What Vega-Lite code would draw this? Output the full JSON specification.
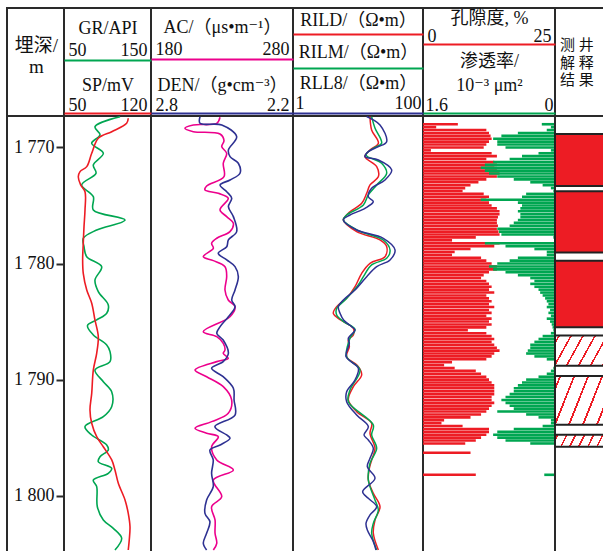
{
"$schema":"https://vega.github.io/schema/vega-lite/v6.json",
"padding":{"left":6,"top":7,"right":0,"bottom":0},
"background":"white",
"columns":6,
"spacing":0,
"bounds":"flush",
"config":{
 "view":{"stroke":"#2a2a2a","strokeWidth":2},
 "axis":{"labelFont":"Liberation Serif, Noto Sans CJK SC, DejaVu Serif","labelFontSize":18,"labelColor":"#111","titleFont":"Liberation Serif, Noto Sans CJK SC, DejaVu Serif","titleFontSize":18,"titleFontWeight":"normal","titleColor":"#111","grid":false,"ticks":false,"tickSize":0,"domainWidth":2,"labelFlush":true,"labelFlushOffset":-4,"labelOverlap":false,"labelAngle":0},
 "text":{"font":"Liberation Serif, Noto Sans CJK SC, DejaVu Serif"}
},
"datasets":{
 "gr":[{"depth":1767.35,"gr":114.4},{"depth":1768.21,"gr":85.6},{"depth":1768.92,"gr":91.4},{"depth":1769.64,"gr":81.8},{"depth":1770.5,"gr":95.2},{"depth":1771.51,"gr":83.7},{"depth":1772.22,"gr":86.8},{"depth":1773.23,"gr":70.3},{"depth":1774.24,"gr":83.7},{"depth":1775.38,"gr":83.7},{"depth":1776.25,"gr":120.1},{"depth":1777.11,"gr":87.6},{"depth":1777.82,"gr":72.2},{"depth":1778.55,"gr":73.0},{"depth":1779.41,"gr":76.1},{"depth":1780.27,"gr":93.3},{"depth":1781.42,"gr":85.6},{"depth":1782.42,"gr":89.4},{"depth":1783.57,"gr":100.9},{"depth":1784.28,"gr":99.1},{"depth":1784.86,"gr":87.6},{"depth":1785.35,"gr":77.0},{"depth":1786.15,"gr":83.7},{"depth":1787.01,"gr":99.1},{"depth":1787.59,"gr":102.9},{"depth":1788.45,"gr":102.9},{"depth":1789.17,"gr":85.6},{"depth":1790.18,"gr":95.2},{"depth":1791.04,"gr":104.8},{"depth":1792.33,"gr":104.8},{"depth":1793.19,"gr":95.2},{"depth":1794.05,"gr":74.1},{"depth":1794.77,"gr":81.8},{"depth":1795.63,"gr":99.1},{"depth":1796.06,"gr":100.9},{"depth":1796.64,"gr":91.4},{"depth":1797.07,"gr":89.4},{"depth":1797.64,"gr":104.8},{"depth":1798.07,"gr":100.9},{"depth":1798.65,"gr":83.7},{"depth":1799.22,"gr":87.6},{"depth":1800.95,"gr":88.3},{"depth":1802.09,"gr":95.2},{"depth":1802.81,"gr":106.7},{"depth":1803.67,"gr":116.3},{"depth":1804.68,"gr":108.6}],
 "sp":[{"depth":1767.48,"sp":101.7},{"depth":1767.92,"sp":100.4},{"depth":1768.64,"sp":88.4},{"depth":1769.21,"sp":77.6},{"depth":1770.5,"sp":72.3},{"depth":1771.65,"sp":68.3},{"depth":1772.08,"sp":62.9},{"depth":1772.52,"sp":61.5},{"depth":1773.23,"sp":63.4},{"depth":1773.81,"sp":66.9},{"depth":1775.38,"sp":66.9},{"depth":1776.82,"sp":66.1},{"depth":1778.25,"sp":65.5},{"depth":1779.69,"sp":65.0},{"depth":1780.84,"sp":65.5},{"depth":1782.28,"sp":68.3},{"depth":1783.42,"sp":72.3},{"depth":1784.86,"sp":74.9},{"depth":1786.3,"sp":77.6},{"depth":1787.73,"sp":76.3},{"depth":1789.17,"sp":73.6},{"depth":1791.18,"sp":72.3},{"depth":1792.61,"sp":70.9},{"depth":1793.76,"sp":72.3},{"depth":1794.92,"sp":76.3},{"depth":1795.78,"sp":81.6},{"depth":1796.92,"sp":88.4},{"depth":1797.78,"sp":91.0},{"depth":1798.93,"sp":93.7},{"depth":1800.37,"sp":99.1},{"depth":1801.52,"sp":101.7},{"depth":1802.67,"sp":103.1},{"depth":1803.82,"sp":102.5},{"depth":1804.68,"sp":101.7}],
 "ac":[{"depth":1767.4,"ac":228.6},{"depth":1767.92,"ac":226.3},{"depth":1768.06,"ac":209.8},{"depth":1768.35,"ac":203.9},{"depth":1768.64,"ac":209.8},{"depth":1768.84,"ac":228.6},{"depth":1769.41,"ac":231.4},{"depth":1769.93,"ac":229.8},{"depth":1770.5,"ac":233.3},{"depth":1771.36,"ac":230.9},{"depth":1772.52,"ac":231.4},{"depth":1773.32,"ac":219.2},{"depth":1773.66,"ac":218.0},{"depth":1773.95,"ac":227.4},{"depth":1774.38,"ac":234.4},{"depth":1775.38,"ac":228.6},{"depth":1775.96,"ac":233.3},{"depth":1776.53,"ac":238.0},{"depth":1777.25,"ac":235.6},{"depth":1777.82,"ac":226.3},{"depth":1778.25,"ac":222.7},{"depth":1778.68,"ac":223.9},{"depth":1779.41,"ac":216.8},{"depth":1779.75,"ac":223.9},{"depth":1780.27,"ac":232.1},{"depth":1781.13,"ac":233.3},{"depth":1782.28,"ac":232.1},{"depth":1783.14,"ac":234.4},{"depth":1783.72,"ac":239.2},{"depth":1784.58,"ac":235.6},{"depth":1785.87,"ac":216.8},{"depth":1786.3,"ac":226.3},{"depth":1786.87,"ac":230.9},{"depth":1787.45,"ac":232.1},{"depth":1787.73,"ac":230.9},{"depth":1788.16,"ac":234.4},{"depth":1788.45,"ac":226.3},{"depth":1789.17,"ac":211.0},{"depth":1789.75,"ac":219.2},{"depth":1790.61,"ac":230.9},{"depth":1791.75,"ac":236.8},{"depth":1792.9,"ac":234.4},{"depth":1793.62,"ac":222.7},{"depth":1794.19,"ac":211.0},{"depth":1794.62,"ac":219.2},{"depth":1794.92,"ac":227.4},{"depth":1795.78,"ac":222.7},{"depth":1796.92,"ac":226.3},{"depth":1797.78,"ac":238.0},{"depth":1798.65,"ac":223.9},{"depth":1800.09,"ac":229.8},{"depth":1800.95,"ac":222.7},{"depth":1802.09,"ac":225.1},{"depth":1803.24,"ac":225.1},{"depth":1804.1,"ac":226.3},{"depth":1804.68,"ac":223.9}],
 "den":[{"depth":1767.35,"den":2.593},{"depth":1767.92,"den":2.593},{"depth":1768.06,"den":2.501},{"depth":1769.07,"den":2.438},{"depth":1770.22,"den":2.473},{"depth":1770.79,"den":2.466},{"depth":1771.36,"den":2.431},{"depth":1772.22,"den":2.424},{"depth":1772.8,"den":2.466},{"depth":1773.23,"den":2.508},{"depth":1773.81,"den":2.48},{"depth":1774.38,"den":2.459},{"depth":1775.1,"den":2.473},{"depth":1775.96,"den":2.452},{"depth":1777.25,"den":2.438},{"depth":1777.97,"den":2.473},{"depth":1778.55,"den":2.48},{"depth":1779.12,"den":2.516},{"depth":1779.69,"den":2.48},{"depth":1780.27,"den":2.445},{"depth":1781.13,"den":2.431},{"depth":1782.28,"den":2.445},{"depth":1783.14,"den":2.459},{"depth":1783.72,"den":2.445},{"depth":1784.58,"den":2.473},{"depth":1785.44,"den":2.508},{"depth":1786.01,"den":2.522},{"depth":1786.59,"den":2.495},{"depth":1787.73,"den":2.473},{"depth":1788.45,"den":2.495},{"depth":1789.02,"den":2.544},{"depth":1789.75,"den":2.495},{"depth":1790.75,"den":2.452},{"depth":1791.75,"den":2.449},{"depth":1793.05,"den":2.445},{"depth":1794.05,"den":2.53},{"depth":1794.77,"den":2.48},{"depth":1795.05,"den":2.466},{"depth":1795.63,"den":2.508},{"depth":1796.06,"den":2.551},{"depth":1796.92,"den":2.537},{"depth":1798.07,"den":2.544},{"depth":1799.22,"den":2.537},{"depth":1800.37,"den":2.565},{"depth":1801.52,"den":2.572},{"depth":1802.24,"den":2.551},{"depth":1803.24,"den":2.565},{"depth":1804.1,"den":2.579},{"depth":1804.68,"den":2.565}],
 "rild":[{"depth":1767.34,"r":15.3},{"depth":1768.49,"r":16.2},{"depth":1769.64,"r":20.6},{"depth":1770.22,"r":15.3},{"depth":1770.79,"r":12.8},{"depth":1771.65,"r":19.4},{"depth":1772.51,"r":20.6},{"depth":1773.23,"r":15.3},{"depth":1773.95,"r":13.6},{"depth":1774.81,"r":11.4},{"depth":1775.67,"r":7.1},{"depth":1776.25,"r":5.95},{"depth":1777.25,"r":9.54},{"depth":1777.97,"r":21.8},{"depth":1778.54,"r":27.6},{"depth":1779.41,"r":26.0},{"depth":1779.98,"r":15.3},{"depth":1780.84,"r":11.4},{"depth":1781.99,"r":9.0},{"depth":1782.99,"r":6.69},{"depth":1783.71,"r":4.7},{"depth":1784.29,"r":4.17},{"depth":1784.86,"r":5.4},{"depth":1785.58,"r":8.48},{"depth":1786.15,"r":8.48},{"depth":1786.59,"r":7.1},{"depth":1787.16,"r":7.36},{"depth":1788.02,"r":6.69},{"depth":1788.88,"r":10.12},{"depth":1789.6,"r":11.39},{"depth":1790.61,"r":8.48},{"depth":1791.75,"r":7.1},{"depth":1792.76,"r":9.54},{"depth":1793.76,"r":16.23},{"depth":1794.63,"r":15.3},{"depth":1795.92,"r":18.26},{"depth":1796.92,"r":16.23},{"depth":1797.64,"r":14.95},{"depth":1798.65,"r":14.42},{"depth":1799.8,"r":17.21},{"depth":1800.95,"r":21.81},{"depth":1802.09,"r":18.26},{"depth":1803.24,"r":17.21},{"depth":1804.68,"r":20.55}],
 "rilm":[{"depth":1767.34,"r":16.2},{"depth":1768.35,"r":18.3},{"depth":1769.64,"r":23.1},{"depth":1770.07,"r":17.2},{"depth":1770.65,"r":13.3},{"depth":1771.36,"r":23.1},{"depth":1772.23,"r":27.6},{"depth":1773.23,"r":19.4},{"depth":1774.09,"r":14.4},{"depth":1774.95,"r":12.1},{"depth":1775.82,"r":6.69},{"depth":1776.25,"r":5.95},{"depth":1777.17,"r":10.1},{"depth":1777.97,"r":24.5},{"depth":1778.83,"r":31.1},{"depth":1779.55,"r":27.6},{"depth":1780.12,"r":16.2},{"depth":1781.13,"r":12.1},{"depth":1781.85,"r":10.1},{"depth":1783.14,"r":6.31},{"depth":1783.86,"r":4.7},{"depth":1784.43,"r":4.7},{"depth":1785.01,"r":6.0},{"depth":1785.67,"r":8.99},{"depth":1786.44,"r":7.53},{"depth":1788.02,"r":6.69},{"depth":1789.17,"r":10.73},{"depth":1790.89,"r":7.53},{"depth":1791.9,"r":7.1},{"depth":1793.91,"r":17.21},{"depth":1794.77,"r":16.23},{"depth":1795.92,"r":19.38},{"depth":1797.21,"r":15.3},{"depth":1798.65,"r":14.42},{"depth":1800.37,"r":18.26},{"depth":1801.23,"r":20.55},{"depth":1802.38,"r":17.21},{"depth":1803.24,"r":16.23},{"depth":1804.68,"r":19.38}],
 "rll8":[{"depth":1767.34,"r":13.6},{"depth":1768.06,"r":21.8},{"depth":1769.5,"r":27.6},{"depth":1769.93,"r":20.6},{"depth":1770.36,"r":14.4},{"depth":1770.79,"r":12.8},{"depth":1771.08,"r":20.6},{"depth":1771.94,"r":33.0},{"depth":1772.8,"r":26.0},{"depth":1773.52,"r":16.2},{"depth":1774.24,"r":14.4},{"depth":1774.67,"r":17.2},{"depth":1775.24,"r":12.8},{"depth":1775.82,"r":7.53},{"depth":1776.25,"r":5.95},{"depth":1777.11,"r":9.54},{"depth":1777.83,"r":24.5},{"depth":1778.83,"r":37.1},{"depth":1779.69,"r":31.1},{"depth":1780.27,"r":19.4},{"depth":1781.13,"r":13.6},{"depth":1782.28,"r":9.0},{"depth":1783.14,"r":5.95},{"depth":1783.71,"r":4.98},{"depth":1784.29,"r":5.29},{"depth":1784.86,"r":6.0},{"depth":1785.44,"r":7.99},{"depth":1785.72,"r":8.99},{"depth":1786.44,"r":7.1},{"depth":1786.87,"r":7.36},{"depth":1788.02,"r":6.54},{"depth":1789.03,"r":10.12},{"depth":1790.03,"r":8.99},{"depth":1791.04,"r":6.69},{"depth":1791.9,"r":6.69},{"depth":1793.05,"r":9.54},{"depth":1794.05,"r":14.42},{"depth":1794.77,"r":12.37},{"depth":1795.2,"r":14.42},{"depth":1795.92,"r":17.21},{"depth":1796.78,"r":15.3},{"depth":1797.5,"r":13.92},{"depth":1798.5,"r":18.26},{"depth":1799.65,"r":11.8},{"depth":1800.23,"r":14.42},{"depth":1800.95,"r":19.38},{"depth":1801.66,"r":15.3},{"depth":1802.38,"r":13.28},{"depth":1802.96,"r":13.92},{"depth":1803.96,"r":17.21},{"depth":1804.68,"r":18.92}],
 "core":[{"depth":1768.0,"por":6.6,"perm":0.16},{"depth":1768.25,"por":2.5,"perm":0.05},{"depth":1768.5,"por":12,"perm":0.1},{"depth":1768.75,"por":12.5,"perm":0.45},{"depth":1769.0,"por":12.8,"perm":0.65},{"depth":1769.25,"por":13,"perm":0.75},{"depth":1769.5,"por":12.5,"perm":0.7},{"depth":1769.75,"por":12,"perm":0.7},{"depth":1770.0,"por":11.5,"perm":0.6},{"depth":1770.25,"por":1.5,"perm":0.05},{"depth":1770.5,"por":13,"perm":0.2},{"depth":1770.75,"por":14,"perm":0.4},{"depth":1771.0,"por":12,"perm":0.55},{"depth":1771.25,"por":13.5,"perm":0.75},{"depth":1771.5,"por":14,"perm":0.85},{"depth":1771.75,"por":13.5,"perm":0.9},{"depth":1772.0,"por":14,"perm":0.85},{"depth":1772.25,"por":14.5,"perm":0.8},{"depth":1772.5,"por":14,"perm":0.7},{"depth":1772.75,"por":12,"perm":0.5},{"depth":1773.0,"por":10.5,"perm":0.3},{"depth":1773.25,"por":9,"perm":0.15},{"depth":1773.5,"por":8,"perm":0.05},{"depth":1773.75,"por":7.5,"perm":0.02},{"depth":1774.0,"por":11.5,"perm":0.35},{"depth":1774.25,"por":12.5,"perm":0.4},{"depth":1774.5,"por":12,"perm":0.9},{"depth":1774.75,"por":12.5,"perm":0.45},{"depth":1775.0,"por":13,"perm":0.4},{"depth":1775.25,"por":14,"perm":0.42},{"depth":1775.5,"por":14.5,"perm":0.45},{"depth":1775.75,"por":14.5,"perm":0.42},{"depth":1776.0,"por":14.2,"perm":0.42},{"depth":1776.25,"por":14,"perm":0.45},{"depth":1776.5,"por":14,"perm":0.5},{"depth":1776.75,"por":14.2,"perm":0.55},{"depth":1777.0,"por":14,"perm":0.7},{"depth":1777.25,"por":14.3,"perm":0.68},{"depth":1777.5,"por":14.5,"perm":0.65},{"depth":1777.75,"por":10,"perm":0.02},{"depth":1778.0,"por":5.5,"perm":0.0},{"depth":1778.25,"por":14.5,"perm":0.85},{"depth":1778.5,"por":13.5,"perm":0.6},{"depth":1778.75,"por":9,"perm":0.25},{"depth":1779.0,"por":6,"perm":0.1},{"depth":1779.25,"por":5.5,"perm":0.1},{"depth":1779.5,"por":11,"perm":0.45},{"depth":1779.75,"por":12,"perm":0.55},{"depth":1780.0,"por":13,"perm":0.7},{"depth":1780.25,"por":14,"perm":0.8},{"depth":1780.5,"por":14,"perm":0.75},{"depth":1780.75,"por":12.5,"perm":0.6},{"depth":1781.0,"por":11.5,"perm":0.45},{"depth":1781.25,"por":11,"perm":0.3},{"depth":1781.5,"por":12,"perm":0.25},{"depth":1781.75,"por":12.5,"perm":0.3},{"depth":1782.0,"por":13,"perm":0.25},{"depth":1782.25,"por":12.5,"perm":0.2},{"depth":1782.5,"por":13.5,"perm":0.18},{"depth":1782.75,"por":12,"perm":0.15},{"depth":1783.0,"por":12.5,"perm":0.12},{"depth":1783.25,"por":13,"perm":0.1},{"depth":1783.5,"por":12.5,"perm":0.08},{"depth":1783.75,"por":13.5,"perm":0.1},{"depth":1784.0,"por":12.5,"perm":0.06},{"depth":1784.25,"por":13,"perm":0.08},{"depth":1784.5,"por":12,"perm":0.05},{"depth":1784.75,"por":13,"perm":0.1},{"depth":1785.0,"por":12.5,"perm":0.06},{"depth":1785.25,"por":13,"perm":0.04},{"depth":1785.5,"por":12,"perm":0.03},{"depth":1785.75,"por":8.5,"perm":0.02},{"depth":1786.0,"por":12,"perm":0.05},{"depth":1786.25,"por":13,"perm":0.15},{"depth":1786.5,"por":13.5,"perm":0.2},{"depth":1786.75,"por":13,"perm":0.25},{"depth":1787.0,"por":13.5,"perm":0.3},{"depth":1787.25,"por":14,"perm":0.3},{"depth":1787.5,"por":14.5,"perm":0.33},{"depth":1787.75,"por":13.5,"perm":0.35},{"depth":1788.0,"por":13,"perm":0.25},{"depth":1788.25,"por":12,"perm":0.1},{"depth":1788.5,"por":5.5,"perm":0.0},{"depth":1788.75,"por":4,"perm":0.0},{"depth":1789.0,"por":6,"perm":0.02},{"depth":1789.25,"por":10,"perm":0.05},{"depth":1789.5,"por":11,"perm":0.1},{"depth":1789.75,"por":12,"perm":0.2},{"depth":1790.0,"por":12.5,"perm":0.35},{"depth":1790.25,"por":13,"perm":0.4},{"depth":1790.5,"por":13.5,"perm":0.45},{"depth":1790.75,"por":13.5,"perm":0.5},{"depth":1791.0,"por":13.5,"perm":0.5},{"depth":1791.25,"por":13.5,"perm":0.55},{"depth":1791.5,"por":13,"perm":0.6},{"depth":1791.75,"por":13,"perm":0.65},{"depth":1792.0,"por":13.5,"perm":0.6},{"depth":1792.25,"por":13,"perm":0.55},{"depth":1792.5,"por":12.5,"perm":0.5},{"depth":1792.75,"por":12,"perm":0.7},{"depth":1793.0,"por":11,"perm":0.35},{"depth":1793.25,"por":9,"perm":0.2},{"depth":1793.5,"por":4,"perm":0.05},{"depth":1793.75,"por":3.5,"perm":0.05},{"depth":1794.0,"por":7.5,"perm":0.15},{"depth":1794.25,"por":12.5,"perm":0.5},{"depth":1794.5,"por":12.5,"perm":0.7},{"depth":1794.75,"por":12,"perm":0.75},{"depth":1795.0,"por":11,"perm":0.7},{"depth":1795.25,"por":10,"perm":0.6},{"depth":1795.5,"por":8,"perm":0.3},{"depth":1796.3,"por":9,"perm":0},{"depth":1798.2,"por":10,"perm":0.13}],
 "interp":[{"top":1768.85,"bottom":1773.32,"id":1,"kind":"solid"},{"top":1773.77,"bottom":1779.06,"id":2,"kind":"solid"},{"top":1779.75,"bottom":1785.49,"id":3,"kind":"solid"},{"top":1786.21,"bottom":1788.8,"id":4,"kind":"hatch"},{"top":1789.69,"bottom":1793.88,"id":5,"kind":"hatch"},{"top":1794.74,"bottom":1795.78,"id":6,"kind":"hatch"}]
},
"concat":[
  {"width":57,"height":108,"data":{"values":[{}]},"mark":{"type":"text","fontSize":19,"lineHeight":21,"align":"center","baseline":"alphabetic","dx":1,"dy":-10,"color":"#111"},
   "encoding":{"x":{"datum":0.5,"type":"quantitative","scale":{"domain":[0,1]},"axis":null},"y":{"datum":0.5,"type":"quantitative","scale":{"domain":[0,1]},"axis":null},"text":{"value":["埋深/","m"]}}},
  {"width":87,"height":108,"data":{"values":[{}]},"mark":{"type":"text"},
   "encoding":{"x":{"datum":0.5,"type":"quantitative","scale":{"domain":[0,1]},"axis":null},"y":{"datum":0.5,"type":"quantitative","scale":{"domain":[0,1]},"axis":null},"text":{"value":""}}},
  {"width":142,"height":108,"data":{"values":[{}]},"mark":{"type":"text"},
   "encoding":{"x":{"datum":0.5,"type":"quantitative","scale":{"domain":[0,1]},"axis":null},"y":{"datum":0.5,"type":"quantitative","scale":{"domain":[0,1]},"axis":null},"text":{"value":""}}},
  {"width":130,"height":108,"data":{"values":[{}]},"mark":{"type":"text"},
   "encoding":{"x":{"datum":0.5,"type":"quantitative","scale":{"domain":[0,1]},"axis":null},"y":{"datum":0.5,"type":"quantitative","scale":{"domain":[0,1]},"axis":null},"text":{"value":""}}},
  {"width":132,"height":108,"data":{"values":[{}]},"mark":{"type":"text"},
   "encoding":{"x":{"datum":0.5,"type":"quantitative","scale":{"domain":[0,1]},"axis":null},"y":{"datum":0.5,"type":"quantitative","scale":{"domain":[0,1]},"axis":null},"text":{"value":""}}},
  {"width":90,"height":108,"data":{"values":[{}]},"mark":{"type":"text","fontSize":15,"lineHeight":17.5,"align":"left","baseline":"alphabetic","dx":-40,"dy":-12,"color":"#111"},
   "encoding":{"x":{"datum":0.5,"type":"quantitative","scale":{"domain":[0,1]},"axis":null},"y":{"datum":0.5,"type":"quantitative","scale":{"domain":[0,1]},"axis":null},"text":{"value":["测 井","解 释","结 果"]}}},
  {"width":57,"height":444,"data":{"values":[{}]},"mark":{"type":"text"},
   "encoding":{"x":{"datum":0.5,"type":"quantitative","scale":{"domain":[0,1]},"axis":null},"y":{"datum":0.5,"type":"quantitative","scale":{"domain":[0,1]},"axis":null},"text":{"value":""}}},
  {"width":87,"height":444,
   "layer":[
    {"data":{"name":"gr"},"mark":{"type":"line","color":"#00a651","strokeWidth":1.6,"interpolate":"catmull-rom","clip":true},
     "encoding":{
      "x":{"field":"gr","type":"quantitative","scale":{"domain":[50,150],"nice":false,"zero":false},"axis":{"orient":"top","offset":56,"values":[50,150],"format":"d","title":"GR/API","domainColor":"#00a651","labelPadding":1,"titlePadding":4}},
      "y":{"field":"depth","type":"quantitative","scale":{"domain":[1767.29,1805.54],"reverse":true,"nice":false,"zero":false},"axis":{"orient":"left","values":[1770,1780,1790,1800],"ticks":true,"tickSize":8,"tickWidth":2,"tickColor":"#2a2a2a","domain":false,"labelPadding":2,"labelFlush":false,"labelBaseline":"middle","labelExpr":"slice(toString(datum.value),0,1)+' '+slice(toString(datum.value),1)","title":null}},
      "order":{"field":"depth"}}},
    {"data":{"name":"sp"},"mark":{"type":"line","color":"#ed1c24","strokeWidth":1.6,"interpolate":"catmull-rom","clip":true},
     "encoding":{
      "x":{"field":"sp","type":"quantitative","scale":{"domain":[50,120],"nice":false,"zero":false},"axis":{"orient":"top","offset":3,"values":[50,120],"format":"d","title":"SP/mV","domainColor":"#ed1c24","labelPadding":-1,"titlePadding":2}},
      "y":{"field":"depth","type":"quantitative","scale":{"domain":[1767.29,1805.54],"reverse":true,"nice":false,"zero":false},"axis":{"orient":"left","values":[1770,1780,1790,1800],"ticks":true,"tickSize":8,"tickWidth":2,"tickColor":"#2a2a2a","domain":false,"labelPadding":2,"labelFlush":false,"labelBaseline":"middle","labelExpr":"slice(toString(datum.value),0,1)+' '+slice(toString(datum.value),1)","title":null}},
      "order":{"field":"depth"}}}
   ],
   "resolve":{"scale":{"x":"independent"},"axis":{"x":"independent"}}},
  {"width":142,"height":444,
   "layer":[
    {"data":{"name":"ac"},"mark":{"type":"line","color":"#ec008c","strokeWidth":1.6,"interpolate":"catmull-rom","clip":true},
     "encoding":{
      "x":{"field":"ac","type":"quantitative","scale":{"domain":[180,280],"nice":false,"zero":false},"axis":{"orient":"top","offset":57,"values":[180,280],"format":"d","title":"AC/（μs•m⁻¹）","domainColor":"#ec008c","labelPadding":0.5,"titlePadding":4}},
      "y":{"field":"depth","type":"quantitative","scale":{"domain":[1767.29,1805.54],"reverse":true,"nice":false,"zero":false},"axis":null},
      "order":{"field":"depth"}}},
    {"data":{"name":"den"},"mark":{"type":"line","color":"#2e3192","strokeWidth":1.6,"interpolate":"catmull-rom","clip":true},
     "encoding":{
      "x":{"field":"den","type":"quantitative","scale":{"domain":[2.2,2.8],"reverse":true,"nice":false,"zero":false},"axis":{"orient":"top","offset":3,"values":[2.8,2.2],"format":".1f","title":"DEN/（g•cm⁻³）","domainColor":"#2e3192","labelPadding":-1,"titlePadding":2}},
      "y":{"field":"depth","type":"quantitative","scale":{"domain":[1767.29,1805.54],"reverse":true,"nice":false,"zero":false},"axis":null},
      "order":{"field":"depth"}}}
   ],
   "resolve":{"scale":{"x":"independent"},"axis":{"x":"independent"}}},
  {"width":130,"height":444,
   "layer":[
    {"data":{"name":"rild"},"mark":{"type":"line","color":"#ed1c24","strokeWidth":1.5,"interpolate":"catmull-rom","clip":true},
     "encoding":{
      "x":{"field":"r","type":"quantitative","scale":{"type":"log","domain":[1,100],"nice":false},"axis":{"orient":"top","offset":82,"labels":false,"title":"RILD/（Ω•m）","domainColor":"#ed1c24","titlePadding":4.5}},
      "y":{"field":"depth","type":"quantitative","scale":{"domain":[1767.29,1805.54],"reverse":true,"nice":false,"zero":false},"axis":null},
      "order":{"field":"depth"}}},
    {"data":{"name":"rilm"},"mark":{"type":"line","color":"#00a651","strokeWidth":1.5,"interpolate":"catmull-rom","clip":true},
     "encoding":{
      "x":{"field":"r","type":"quantitative","scale":{"type":"log","domain":[1,100],"nice":false},"axis":{"orient":"top","offset":48,"labels":false,"title":"RILM/（Ω•m）","domainColor":"#00a651","titlePadding":7}},
      "y":{"field":"depth","type":"quantitative","scale":{"domain":[1767.29,1805.54],"reverse":true,"nice":false,"zero":false},"axis":null},
      "order":{"field":"depth"}}},
    {"data":{"name":"rll8"},"mark":{"type":"line","color":"#2e3192","strokeWidth":1.5,"interpolate":"catmull-rom","clip":true},
     "encoding":{
      "x":{"field":"r","type":"quantitative","scale":{"type":"log","domain":[1,100],"nice":false},"axis":{"orient":"top","offset":3,"values":[1,100],"format":"d","title":"RLL8/（Ω•m）","domainColor":"#2e3192","labelPadding":0.5,"titlePadding":2,"labelFlushOffset":-2}},
      "y":{"field":"depth","type":"quantitative","scale":{"domain":[1767.29,1805.54],"reverse":true,"nice":false,"zero":false},"axis":null},
      "order":{"field":"depth"}}}
   ],
   "resolve":{"scale":{"x":"independent"},"axis":{"x":"independent"}}},
  {"width":132,"height":444,
   "layer":[
    {"data":{"name":"core"},"mark":{"type":"rule","color":"#ed1c24","strokeWidth":2.6},
     "encoding":{
      "x":{"field":"por","type":"quantitative","scale":{"domain":[0,25],"nice":false,"zero":false},"axis":{"orient":"top","offset":72,"values":[0,25],"format":"d","title":"孔隙度, %","domainColor":"#ed1c24","labelPadding":-1,"titlePadding":0}},
      "x2":{"datum":0},
      "y":{"field":"depth","type":"quantitative","scale":{"domain":[1767.29,1805.54],"reverse":true,"nice":false,"zero":false},"axis":null}}},
    {"data":{"name":"core"},"mark":{"type":"rule","color":"#00a651","strokeWidth":2.6},
     "encoding":{
      "x":{"field":"perm","type":"quantitative","scale":{"domain":[0,1.6],"reverse":true,"nice":false,"zero":false},"axis":{"orient":"top","offset":3,"values":[1.6,0],"labelExpr":"datum.value == 0 ? '0' : format(datum.value, '.1f')","title":["渗透率/","10⁻³ μm²"],"titleLineHeight":24,"domainColor":"#00a651","labelPadding":-1.5,"titlePadding":2,"labelFlushOffset":-2}},
      "x2":{"datum":0},
      "y":{"field":"depth","type":"quantitative","scale":{"domain":[1767.29,1805.54],"reverse":true,"nice":false,"zero":false},"axis":null}}}
   ],
   "resolve":{"scale":{"x":"independent"},"axis":{"x":"independent"}}},
  {"width":90,"height":444,"data":{"name":"interp"},
   "encoding":{
    "y":{"field":"top","type":"quantitative","scale":{"domain":[1767.29,1805.54],"reverse":true,"nice":false,"zero":false},"axis":null},
    "y2":{"field":"bottom"}},
   "layer":[
    {"transform":[{"filter":"datum.kind == 'solid'"}],"mark":{"type":"rect","fill":"#ed1c24","stroke":"#222","strokeWidth":2}},
    {"transform":[{"filter":"datum.id == 4"}],"mark":{"type":"rect","stroke":"#222","strokeWidth":2,"fill":{"gradient":"linear","x1":0,"y1":0,"x2":1.146,"y2":0.212,"stops":[
      {"offset":0,"color":"#ffffff"},
      {"offset":0.030,"color":"#ffffff"},{"offset":0.030,"color":"#ed1c24"},{"offset":0.047,"color":"#ed1c24"},{"offset":0.047,"color":"#ffffff"},
      {"offset":0.143,"color":"#ffffff"},{"offset":0.143,"color":"#ed1c24"},{"offset":0.160,"color":"#ed1c24"},{"offset":0.160,"color":"#ffffff"},
      {"offset":0.255,"color":"#ffffff"},{"offset":0.255,"color":"#ed1c24"},{"offset":0.272,"color":"#ed1c24"},{"offset":0.272,"color":"#ffffff"},
      {"offset":0.368,"color":"#ffffff"},{"offset":0.368,"color":"#ed1c24"},{"offset":0.385,"color":"#ed1c24"},{"offset":0.385,"color":"#ffffff"},
      {"offset":0.480,"color":"#ffffff"},{"offset":0.480,"color":"#ed1c24"},{"offset":0.497,"color":"#ed1c24"},{"offset":0.497,"color":"#ffffff"},
      {"offset":0.593,"color":"#ffffff"},{"offset":0.593,"color":"#ed1c24"},{"offset":0.610,"color":"#ed1c24"},{"offset":0.610,"color":"#ffffff"},
      {"offset":0.706,"color":"#ffffff"},{"offset":0.706,"color":"#ed1c24"},{"offset":0.723,"color":"#ed1c24"},{"offset":0.723,"color":"#ffffff"},
      {"offset":0.818,"color":"#ffffff"},{"offset":0.818,"color":"#ed1c24"},{"offset":0.835,"color":"#ed1c24"},{"offset":0.835,"color":"#ffffff"},
      {"offset":0.931,"color":"#ffffff"},{"offset":0.931,"color":"#ed1c24"},{"offset":0.948,"color":"#ed1c24"},{"offset":0.948,"color":"#ffffff"},
      {"offset":1,"color":"#ffffff"}]}}},
    {"transform":[{"filter":"datum.id == 5"}],"mark":{"type":"rect","stroke":"#222","strokeWidth":2,"fill":{"gradient":"linear","x1":0,"y1":0,"x2":1.162,"y2":0.25,"stops":[
      {"offset":0,"color":"#ffffff"},
      {"offset":0.040,"color":"#ffffff"},{"offset":0.040,"color":"#ed1c24"},{"offset":0.057,"color":"#ed1c24"},{"offset":0.057,"color":"#ffffff"},
      {"offset":0.168,"color":"#ffffff"},{"offset":0.168,"color":"#ed1c24"},{"offset":0.185,"color":"#ed1c24"},{"offset":0.185,"color":"#ffffff"},
      {"offset":0.296,"color":"#ffffff"},{"offset":0.296,"color":"#ed1c24"},{"offset":0.313,"color":"#ed1c24"},{"offset":0.313,"color":"#ffffff"},
      {"offset":0.424,"color":"#ffffff"},{"offset":0.424,"color":"#ed1c24"},{"offset":0.441,"color":"#ed1c24"},{"offset":0.441,"color":"#ffffff"},
      {"offset":0.552,"color":"#ffffff"},{"offset":0.552,"color":"#ed1c24"},{"offset":0.569,"color":"#ed1c24"},{"offset":0.569,"color":"#ffffff"},
      {"offset":0.680,"color":"#ffffff"},{"offset":0.680,"color":"#ed1c24"},{"offset":0.697,"color":"#ed1c24"},{"offset":0.697,"color":"#ffffff"},
      {"offset":0.808,"color":"#ffffff"},{"offset":0.808,"color":"#ed1c24"},{"offset":0.825,"color":"#ed1c24"},{"offset":0.825,"color":"#ffffff"},
      {"offset":0.936,"color":"#ffffff"},{"offset":0.936,"color":"#ed1c24"},{"offset":0.953,"color":"#ed1c24"},{"offset":0.953,"color":"#ffffff"},
      {"offset":1,"color":"#ffffff"}]}}},
    {"transform":[{"filter":"datum.id == 6"}],"mark":{"type":"rect","stroke":"#222","strokeWidth":2,"fill":{"gradient":"linear","x1":0,"y1":0,"x2":1.062,"y2":0.071,"stops":[
      {"offset":0,"color":"#ffffff"},
      {"offset":0.020,"color":"#ffffff"},{"offset":0.020,"color":"#ed1c24"},{"offset":0.039,"color":"#ed1c24"},{"offset":0.039,"color":"#ffffff"},
      {"offset":0.114,"color":"#ffffff"},{"offset":0.114,"color":"#ed1c24"},{"offset":0.133,"color":"#ed1c24"},{"offset":0.133,"color":"#ffffff"},
      {"offset":0.207,"color":"#ffffff"},{"offset":0.207,"color":"#ed1c24"},{"offset":0.226,"color":"#ed1c24"},{"offset":0.226,"color":"#ffffff"},
      {"offset":0.301,"color":"#ffffff"},{"offset":0.301,"color":"#ed1c24"},{"offset":0.320,"color":"#ed1c24"},{"offset":0.320,"color":"#ffffff"},
      {"offset":0.395,"color":"#ffffff"},{"offset":0.395,"color":"#ed1c24"},{"offset":0.414,"color":"#ed1c24"},{"offset":0.414,"color":"#ffffff"},
      {"offset":0.489,"color":"#ffffff"},{"offset":0.489,"color":"#ed1c24"},{"offset":0.508,"color":"#ed1c24"},{"offset":0.508,"color":"#ffffff"},
      {"offset":0.582,"color":"#ffffff"},{"offset":0.582,"color":"#ed1c24"},{"offset":0.601,"color":"#ed1c24"},{"offset":0.601,"color":"#ffffff"},
      {"offset":0.676,"color":"#ffffff"},{"offset":0.676,"color":"#ed1c24"},{"offset":0.695,"color":"#ed1c24"},{"offset":0.695,"color":"#ffffff"},
      {"offset":0.770,"color":"#ffffff"},{"offset":0.770,"color":"#ed1c24"},{"offset":0.789,"color":"#ed1c24"},{"offset":0.789,"color":"#ffffff"},
      {"offset":0.863,"color":"#ffffff"},{"offset":0.863,"color":"#ed1c24"},{"offset":0.882,"color":"#ed1c24"},{"offset":0.882,"color":"#ffffff"},
      {"offset":0.957,"color":"#ffffff"},{"offset":0.957,"color":"#ed1c24"},{"offset":0.976,"color":"#ed1c24"},{"offset":0.976,"color":"#ffffff"},
      {"offset":1,"color":"#ffffff"}]}}}
   ]}
]
}
